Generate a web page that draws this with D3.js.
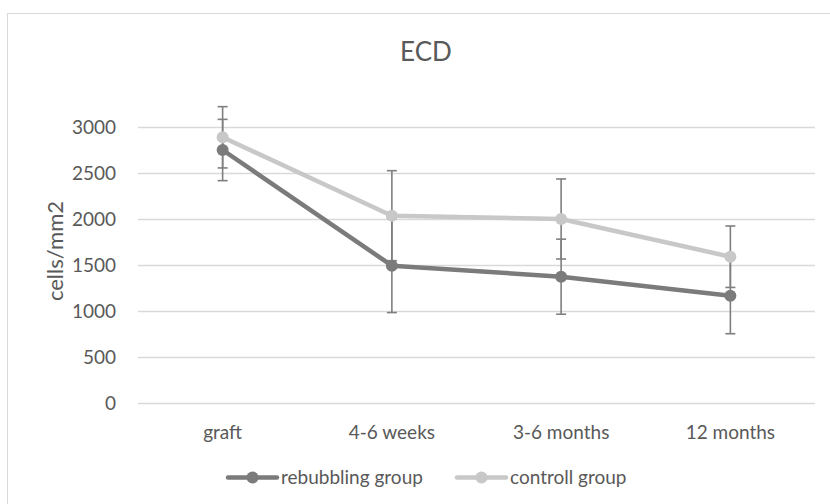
<!DOCTYPE html>
<html><head><meta charset="utf-8">
<script src="https://cdn.jsdelivr.net/npm/d3@7"></script>
<style>body{margin:0;background:#fff}svg{display:block}text{font-family:Lato,"Open Sans",sans-serif;fill:#595959}</style>
</head><body><svg id="c" width="830" height="504"></svg>
<script>
const categories = ["graft","4-6 weeks","3-6 months","12 months"];
const rebubbling = [2750, 1493, 1373, 1166];
const rebubblingErr = [333, 510, 408, 413];
const controll = [2888, 2036, 2000, 1590];
const controllErr = [333, 489, 435, 334];
const yTicks = [0,500,1000,1500,2000,2500,3000];
const seriesNames = ["rebubbling group","controll group"];

const svg = d3.select("#c");
svg.append("rect").attr("x",7.5).attr("y",13.5).attr("width",840).attr("height",520)
  .attr("fill","#fff").attr("stroke","#d9d9d9");

const x = d3.scaleBand().domain(categories).range([138,815]);
const y = d3.scaleLinear().domain([0,3000]).range([403,127]);

// gridlines
svg.append("g").selectAll("line").data(yTicks).join("line")
  .attr("x1",138).attr("x2",815).attr("y1",d=>Math.round(y(d))+0.5).attr("y2",d=>Math.round(y(d))+0.5)
  .attr("stroke","#d9d9d9").attr("stroke-width",1.3);

// y tick labels
const yAxis = d3.axisLeft(y).tickValues(yTicks).tickFormat(d3.format("d")).tickSize(0).tickPadding(0);
const ya = svg.append("g").attr("transform","translate(116,0)").call(yAxis);
ya.select(".domain").remove();
ya.selectAll("text").style("font-size","19px").attr("fill","#595959").attr("dy","0.36em");

// x labels
const xAxis = d3.axisBottom(x).tickSize(0).tickPadding(0);
const xa = svg.append("g").attr("transform","translate(0,432)").call(xAxis);
xa.select(".domain").remove();
xa.selectAll("text").style("font-size","19px").attr("fill","#595959").attr("dy","0.36em");

// title
svg.append("text").attr("x",426).attr("y",61).attr("text-anchor","middle").style("font-size","26px").text("ECD");
// y label
svg.append("text").attr("transform","translate(63,251) rotate(-90)").attr("text-anchor","middle")
  .style("font-size","22px").text("cells/mm2");

const cx = d => x(d)+x.bandwidth()/2;
const series = [
  {vals:rebubbling, err:rebubblingErr, color:"#7b7b7b"},
  {vals:controll, err:controllErr, color:"#c8c8c8"}
];
const errColor = "#7f7f7f";

// error bars
series.forEach(s=>{
  const g = svg.append("g");
  categories.forEach((c,i)=>{
    const hi = y(s.vals[i]+s.err[i]), lo = y(s.vals[i]-s.err[i]), xc = cx(c);
    g.append("line").attr("x1",xc).attr("x2",xc).attr("y1",hi).attr("y2",lo).attr("stroke",errColor).attr("stroke-width",1.6);
    [hi,lo].forEach(v=>g.append("line").attr("x1",xc-5).attr("x2",xc+5).attr("y1",v).attr("y2",v).attr("stroke",errColor).attr("stroke-width",1.6));
  });
});

const line = d3.line().x((d,i)=>cx(categories[i])).y(d=>y(d));
series.forEach(s=>{
  svg.append("path").datum(s.vals).attr("d",line).attr("fill","none").attr("stroke",s.color).attr("stroke-width",4.5).attr("stroke-linejoin","round");
  svg.append("g").selectAll("circle").data(s.vals).join("circle")
    .attr("cx",(d,i)=>cx(categories[i])).attr("cy",d=>y(d)).attr("r",6).attr("fill",s.color);
});

// legend
const legX = [228, 457];
seriesNames.forEach((n,i)=>{
  const g = svg.append("g").attr("transform",`translate(${legX[i]},477.5)`);
  g.append("line").attr("x1",0).attr("x2",49).attr("stroke",series[i].color).attr("stroke-width",4.5).attr("stroke-linecap","round");
  g.append("circle").attr("cx",24.5).attr("r",6).attr("fill",series[i].color);
  g.append("text").attr("x",53).attr("dy","0.36em").style("font-size","19px").text(n);
});
</script></body></html>
